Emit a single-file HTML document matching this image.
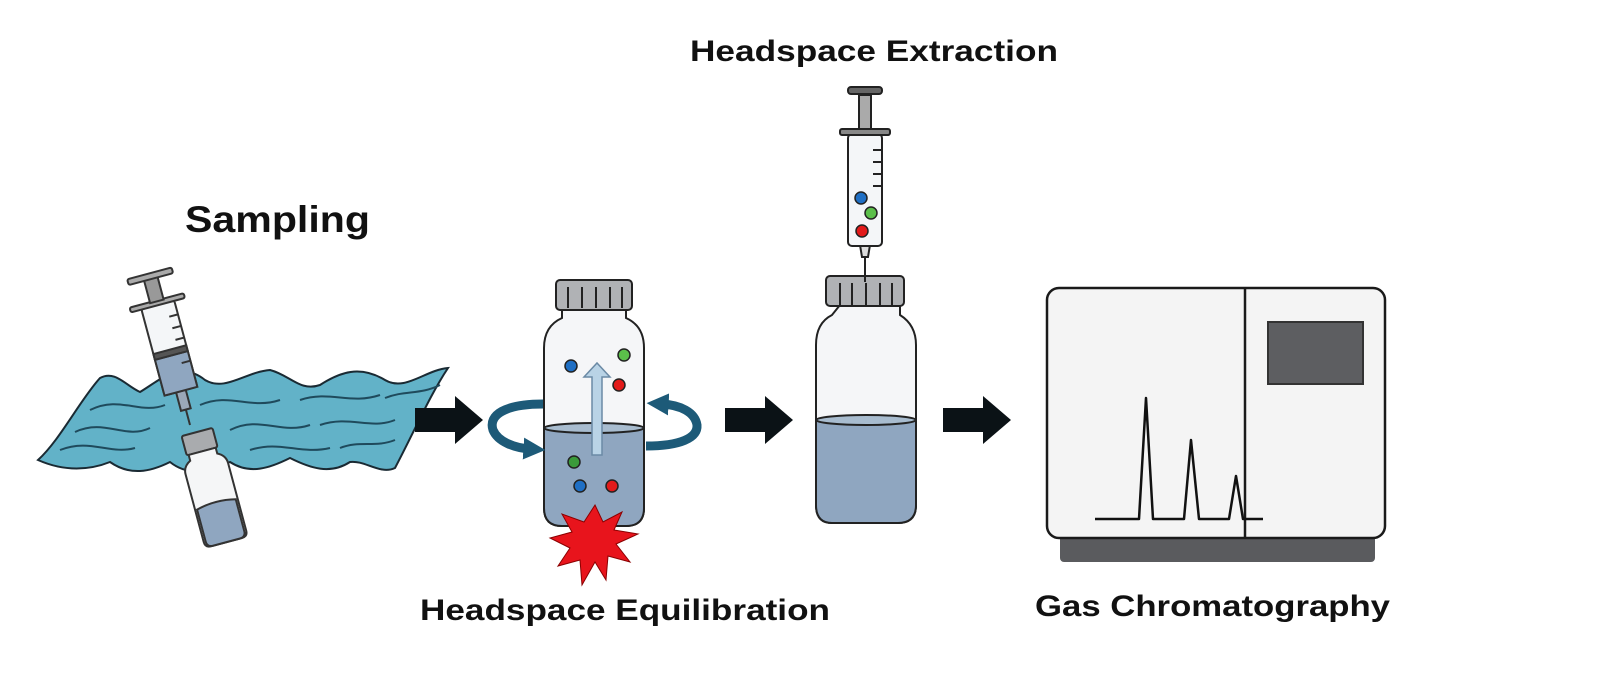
<!DOCTYPE html>
<html><head><meta charset="utf-8"><style>
html,body{margin:0;padding:0;background:#fff}
svg{display:block}
text{font-family:"Liberation Sans",Arial,sans-serif;font-weight:bold;fill:#111}
</style></head><body>
<svg width="1604" height="681" viewBox="0 0 1604 681" xmlns="http://www.w3.org/2000/svg">
<defs>
<marker id="ah" viewBox="0 0 10 10" refX="3" refY="5" markerWidth="22" markerHeight="22" markerUnits="userSpaceOnUse" orient="auto"><path d="M0,0 L10,5 L0,10 z" fill="#1d5a78"/></marker>
</defs>
<!-- labels -->
<text x="185" y="232" font-size="37" textLength="185" lengthAdjust="spacingAndGlyphs">Sampling</text>
<text x="690" y="61" font-size="30" textLength="368" lengthAdjust="spacingAndGlyphs">Headspace Extraction</text>
<text x="420" y="620" font-size="30" textLength="410" lengthAdjust="spacingAndGlyphs">Headspace Equilibration</text>
<text x="1035" y="616" font-size="30" textLength="355" lengthAdjust="spacingAndGlyphs">Gas Chromatography</text>

<!-- waves -->
<path d="M38,460 C60,440 80,400 100,378 C115,370 125,385 140,392 C160,380 180,360 205,380 C225,392 245,372 270,370 C290,375 300,392 320,385 C340,372 360,365 385,380 C405,392 425,370 448,368 C430,395 415,430 395,468 C380,475 365,460 350,462 C330,475 310,468 290,458 C270,468 250,475 230,462 C210,470 190,478 170,462 C150,472 130,476 110,462 C90,470 65,472 38,460 Z" fill="#62b2c8" stroke="#1a2a33" stroke-width="2"/>
<g fill="none" stroke="#1f4a5c" stroke-width="2">
<path d="M90,410 C120,395 140,415 165,405"/><path d="M200,405 C230,392 250,410 280,400"/><path d="M300,400 C330,390 350,405 380,395"/><path d="M385,398 C405,390 420,395 440,385"/>
<path d="M75,432 C105,418 125,440 150,428"/><path d="M230,430 C260,415 280,435 310,425"/><path d="M320,425 C350,415 370,430 395,420"/>
<path d="M60,450 C90,438 110,455 135,448"/><path d="M250,450 C280,440 300,455 330,448"/><path d="M340,448 C360,440 375,448 395,440"/>
</g>

<!-- sampling syringe -->
<g transform="translate(190,425) rotate(-15)" stroke="#333" stroke-width="2">
<line x1="0" y1="0" x2="0" y2="-16" stroke-width="2"/>
<rect x="-5" y="-36" width="10" height="20" fill="#9aa8b8"/>
<rect x="-17" y="-125" width="34" height="90" rx="3" fill="#f4f6f8"/>
<rect x="-17" y="-72" width="34" height="37" fill="#8fa6c0"/>
<rect x="-17" y="-78" width="34" height="6" fill="#555"/>
<line x1="17" y1="-110" x2="8" y2="-110"/><line x1="17" y1="-98" x2="8" y2="-98"/><line x1="17" y1="-86" x2="8" y2="-86"/><line x1="17" y1="-62" x2="8" y2="-62"/>
<rect x="-28" y="-129" width="56" height="5" rx="2" fill="#aaa"/>
<rect x="-7" y="-152" width="14" height="24" fill="#999"/>
<rect x="-23" y="-157" width="46" height="6" rx="2" fill="#aaa"/>
</g>
<!-- sampling vial -->
<g transform="translate(197,432) rotate(-15)" stroke="#333" stroke-width="2">
<rect x="-16" y="0" width="32" height="20" rx="2" fill="#a9abae"/>
<path d="M-14,20 h28 v6 q8,4 8,12 v70 q0,6 -6,6 h-32 q-6,0 -6,-6 v-70 q0,-8 8,-12 z" fill="#f5f6f7"/>
<path d="M-20,75 q20,-5 40,0 v33 q0,6 -6,6 h-28 q-6,0 -6,-6 z" fill="#8fa6c0"/>
</g>

<!-- arrows -->
<g fill="#0b1216">
<path d="M415,408 h40 v-12 l28,24 l-28,24 v-12 h-40 z"/>
<path d="M725,408 h40 v-12 l28,24 l-28,24 v-12 h-40 z"/>
<path d="M943,408 h40 v-12 l28,24 l-28,24 v-12 h-40 z"/>
</g>

<!-- equilibration vial -->
<g stroke="#222" stroke-width="2">
<path d="M562,308 h64 v10 q18,8 18,30 v160 q0,18 -18,18 h-64 q-18,0 -18,-18 v-160 q0,-22 18,-30 z" fill="#f5f6f8"/>
<path d="M544,428 q50,-8 100,0 v80 q0,18 -18,18 h-64 q-18,0 -18,-18 z" fill="#8fa6c0"/>
<ellipse cx="594" cy="428" rx="50" ry="5" fill="#a8bccf"/>
<rect x="556" y="280" width="76" height="30" rx="4" fill="#b0b2b5"/>
<line x1="568" y1="287" x2="568" y2="308"/><line x1="582" y1="287" x2="582" y2="308"/><line x1="596" y1="287" x2="596" y2="308"/><line x1="610" y1="287" x2="610" y2="308"/><line x1="622" y1="287" x2="622" y2="308"/>
</g>
<path d="M592,455 v-78 h-8 l13,-14 l13,14 h-8 v78 z" fill="#b9d3e6" stroke="#6b8aa5" stroke-width="1.5"/>
<path d="M543,404 C505,404 488,415 493,430 C498,442 515,448 530,449" fill="none" stroke="#1d5a78" stroke-width="9" marker-end="url(#ah)"/>
<path d="M646,446 C680,446 698,438 697,425 C695,412 680,405 662,404" fill="none" stroke="#1d5a78" stroke-width="9" marker-end="url(#ah)"/>
<g stroke="#222" stroke-width="1.5">
<circle cx="571" cy="366" r="6" fill="#1f6fc4"/><circle cx="624" cy="355" r="6" fill="#5bbf4a"/><circle cx="619" cy="385" r="6" fill="#e21a1a"/>
<circle cx="574" cy="462" r="6" fill="#3a9a3a"/><circle cx="580" cy="486" r="6" fill="#1f6fc4"/><circle cx="612" cy="486" r="6" fill="#e21a1a"/>
</g>
<polygon points="595,505 603,522 622,512 614,530 638,534 616,544 630,562 608,556 606,580 595,562 582,585 580,560 558,566 570,548 550,538 572,532 562,514 584,522" fill="#e8141c" stroke="#8a0000" stroke-width="1"/>

<!-- extraction -->
<g stroke="#222" stroke-width="2">
<path d="M840,305 h60 v10 q16,10 16,30 v160 q0,18 -18,18 h-66 q-16,0 -16,-18 v-160 q0,-22 16,-30 z" fill="#f5f6f8"/>
<path d="M816,420 q50,-6 100,0 v85 q0,18 -18,18 h-66 q-16,0 -16,-18 z" fill="#8fa6c0"/>
<ellipse cx="866" cy="420" rx="50" ry="5" fill="#a8bccf"/>
<rect x="826" y="276" width="78" height="30" rx="4" fill="#b0b2b5"/>
<line x1="840" y1="283" x2="840" y2="306"/><line x1="852" y1="283" x2="852" y2="306"/><line x1="866" y1="283" x2="866" y2="306"/><line x1="880" y1="283" x2="880" y2="306"/><line x1="892" y1="283" x2="892" y2="306"/>
<line x1="865" y1="255" x2="865" y2="282"/>
<path d="M860,245 h10 l-2,12 h-6 z" fill="#ddd"/>
<rect x="848" y="134" width="34" height="112" rx="4" fill="#f4f6f8"/>
<line x1="882" y1="150" x2="873" y2="150"/><line x1="882" y1="162" x2="873" y2="162"/><line x1="882" y1="174" x2="873" y2="174"/><line x1="882" y1="186" x2="873" y2="186"/>
<rect x="840" y="129" width="50" height="6" rx="2" fill="#888"/>
<rect x="859" y="95" width="12" height="34" fill="#aaa"/>
<rect x="848" y="87" width="34" height="7" rx="3" fill="#666"/>
<circle cx="861" cy="198" r="6" fill="#1f6fc4" stroke-width="1.5"/><circle cx="871" cy="213" r="6" fill="#5bbf4a" stroke-width="1.5"/><circle cx="862" cy="231" r="6" fill="#e21a1a" stroke-width="1.5"/>
</g>

<!-- GC -->
<rect x="1060" y="535" width="315" height="27" rx="4" fill="#5a5b5e"/>
<rect x="1047" y="288" width="338" height="250" rx="12" fill="#f4f4f4" stroke="#1a1a1a" stroke-width="2.5"/>
<line x1="1245" y1="288" x2="1245" y2="538" stroke="#1a1a1a" stroke-width="2.5"/>
<rect x="1268" y="322" width="95" height="62" fill="#5d5e61" stroke="#333" stroke-width="2"/>
<polyline points="1095,519 1139,519 1146,398 1153,519 1184,519 1191,440 1199,519 1229,519 1236,476 1243,519 1263,519" fill="none" stroke="#111" stroke-width="2.5" stroke-linejoin="round"/>
</svg>
</body></html>
